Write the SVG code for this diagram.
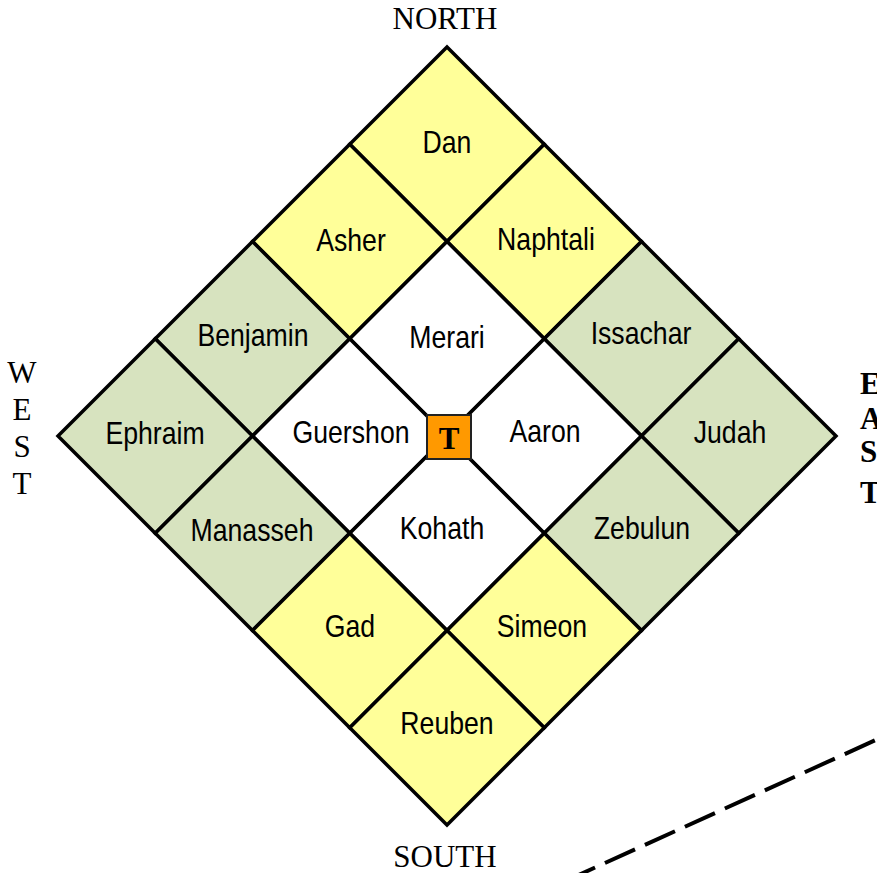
<svg xmlns="http://www.w3.org/2000/svg" width="877" height="873" viewBox="0 0 877 873">
<style>
.cell{stroke:#000;stroke-width:3.5;stroke-linejoin:miter}
.y{fill:#FFFF99}
.g{fill:#D7E3BF}
.w{fill:#FFFFFF}
.lbl{font-family:"Liberation Sans","Arial",sans-serif;font-size:31px;text-anchor:middle;fill:#000}
.dir{font-family:"Liberation Serif","Times New Roman",serif;font-size:31px;fill:#000}
.east{font-family:"Liberation Serif","Times New Roman",serif;font-size:31px;font-weight:bold;fill:#000}
</style>
<rect width="877" height="873" fill="#FFFFFF"/>
<g id="cells">
<g id="dan"><polygon class="cell y" points="447,47 544.25,144.25 447,241.5 349.75,144.25"/><text class="lbl" transform="translate(447,153) scale(0.86,1)">Dan</text></g>
<g id="naphtali"><polygon class="cell y" points="544.25,144.25 641.5,241.5 544.25,338.75 447,241.5"/><text class="lbl" transform="translate(546,250) scale(0.86,1)">Naphtali</text></g>
<g id="issachar"><polygon class="cell g" points="641.5,241.5 738.75,338.75 641.5,436 544.25,338.75"/><text class="lbl" transform="translate(641,344) scale(0.86,1)">Issachar</text></g>
<g id="judah"><polygon class="cell g" points="738.75,338.75 836,436 738.75,533.25 641.5,436"/><text class="lbl" transform="translate(730,443) scale(0.86,1)">Judah</text></g>
<g id="asher"><polygon class="cell y" points="349.75,144.25 447,241.5 349.75,338.75 252.5,241.5"/><text class="lbl" transform="translate(351,251) scale(0.86,1)">Asher</text></g>
<g id="benjamin"><polygon class="cell g" points="252.5,241.5 349.75,338.75 252.5,436 155.25,338.75"/><text class="lbl" transform="translate(253,346) scale(0.86,1)">Benjamin</text></g>
<g id="ephraim"><polygon class="cell g" points="155.25,338.75 252.5,436 155.25,533.25 58,436"/><text class="lbl" transform="translate(155,444) scale(0.86,1)">Ephraim</text></g>
<g id="merari"><polygon class="cell w" points="447,241.5 544.25,338.75 447,436 349.75,338.75"/><text class="lbl" transform="translate(447,348) scale(0.86,1)">Merari</text></g>
<g id="guershon"><polygon class="cell w" points="349.75,338.75 447,436 349.75,533.25 252.5,436"/><text class="lbl" transform="translate(351,443) scale(0.86,1)">Guershon</text></g>
<g id="aaron"><polygon class="cell w" points="544.25,338.75 641.5,436 544.25,533.25 447,436"/><text class="lbl" transform="translate(545,442) scale(0.86,1)">Aaron</text></g>
<g id="kohath"><polygon class="cell w" points="447,436 544.25,533.25 447,630.5 349.75,533.25"/><text class="lbl" transform="translate(442,539) scale(0.86,1)">Kohath</text></g>
<g id="zebulun"><polygon class="cell g" points="641.5,436 738.75,533.25 641.5,630.5 544.25,533.25"/><text class="lbl" transform="translate(642,539) scale(0.86,1)">Zebulun</text></g>
<g id="manasseh"><polygon class="cell g" points="252.5,436 349.75,533.25 252.5,630.5 155.25,533.25"/><text class="lbl" transform="translate(252,541) scale(0.86,1)">Manasseh</text></g>
<g id="gad"><polygon class="cell y" points="349.75,533.25 447,630.5 349.75,727.75 252.5,630.5"/><text class="lbl" transform="translate(350,637) scale(0.86,1)">Gad</text></g>
<g id="simeon"><polygon class="cell y" points="544.25,533.25 641.5,630.5 544.25,727.75 447,630.5"/><text class="lbl" transform="translate(542,637) scale(0.86,1)">Simeon</text></g>
<g id="reuben"><polygon class="cell y" points="447,630.5 544.25,727.75 447,825 349.75,727.75"/><text class="lbl" transform="translate(447,734) scale(0.86,1)">Reuben</text></g>
</g>
<g id="tabernacle">
<rect x="427" y="415" width="44" height="44" fill="#FF9900" stroke="#222" stroke-width="2"/>
<text x="449" y="449" font-family="Liberation Serif,serif" font-size="31" font-weight="bold" text-anchor="middle">T</text>
</g>
<g id="directions">
<text class="dir" x="445" y="29" text-anchor="middle">NORTH</text>
<text class="dir" x="445" y="867" text-anchor="middle">SOUTH</text>
<text class="dir" x="22" y="383" text-anchor="middle">W</text>
<text class="dir" x="22" y="420" text-anchor="middle">E</text>
<text class="dir" x="22" y="457" text-anchor="middle">S</text>
<text class="dir" x="22" y="494" text-anchor="middle">T</text>
<text class="east" x="860" y="394">E</text>
<text class="east" x="860" y="429">A</text>
<text class="east" x="860" y="462">S</text>
<text class="east" x="860" y="503">T</text>
</g>
<g id="connectors">
<line x1="565" y1="881.2" x2="925" y2="717.6" stroke="#000" stroke-width="4" stroke-dasharray="33 10.9"/>
</g>
</svg>
